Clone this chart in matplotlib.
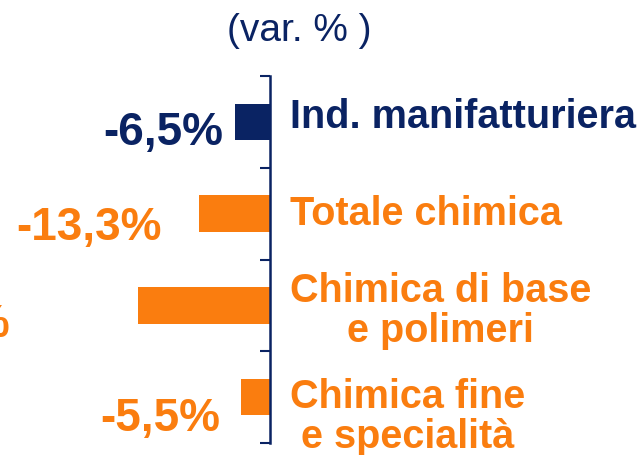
import matplotlib
matplotlib.use('Agg')
import matplotlib.pyplot as plt

# dati (var. %)
categories = ['Ind. manifatturiera', 'Totale chimica',
              'Chimica di base\ne polimeri', 'Chimica fine\ne specialità']
values = [-6.5, -13.3, -24.7, -5.5]
value_labels = ['-6,5%', '-13,3%', '-24,7%', '-5,5%']

NAVY = '#0A2363'
ORANGE = '#FA7D0F'
colors = [NAVY, ORANGE, ORANGE, ORANGE]

W, H = 643, 456
plt.rcParams['font.family'] = ['Liberation Sans', 'DejaVu Sans']

fig = plt.figure(figsize=(W / 100, H / 100), dpi=100)
ax = fig.add_axes([0, (H - 444) / H, 1, (444 - 77) / H])

# scala: 0 a x=270 px, ~5.35 px per punto percentuale
px_per_unit = 5.35
ax.set_xlim(-270 / px_per_unit, (W - 270) / px_per_unit)
ax.set_ylim(3.5, -0.5)

ax.barh(range(len(values)), values, height=0.4, color=colors)

# solo l'asse verticale sullo zero
for s in ['top', 'right', 'bottom']:
    ax.spines[s].set_visible(False)
ax.spines['left'].set_position(('data', 0))
ax.spines['left'].set_color(NAVY)
ax.spines['left'].set_linewidth(1.8)
ax.set_yticks([-0.5, 0.5, 1.5, 2.5, 3.5])
ax.set_yticklabels([])
ax.tick_params(axis='y', direction='out', length=7, width=1.5, color=NAVY)
ax.set_xticks([])
ax.patch.set_visible(False)

# titolo
fig.text(299 / W, (H - 31) / H, '(var. % )', ha='center', va='center',
         fontsize=28, color=NAVY)

# etichette valori (a sinistra delle barre)
label_right = [223, 162, 10, 220]
label_base = [145, 240, 337, 431]
for i, txt in enumerate(value_labels):
    fig.text(label_right[i] / W, (H - label_base[i]) / H, txt, ha='right',
             va='baseline', fontsize=33, fontweight='bold', color=colors[i])

# etichette categorie (a destra dell'asse); baseline dell'ultima riga
cat_base = [128, 225, 342, 448]
for i, cat in enumerate(categories):
    fig.text(290 / W, (H - cat_base[i]) / H, cat, ha='left', va='baseline',
             multialignment='center', linespacing=1.05,
             fontsize=28.5, fontweight='bold', color=colors[i])

fig.savefig('out.png', dpi=100)
